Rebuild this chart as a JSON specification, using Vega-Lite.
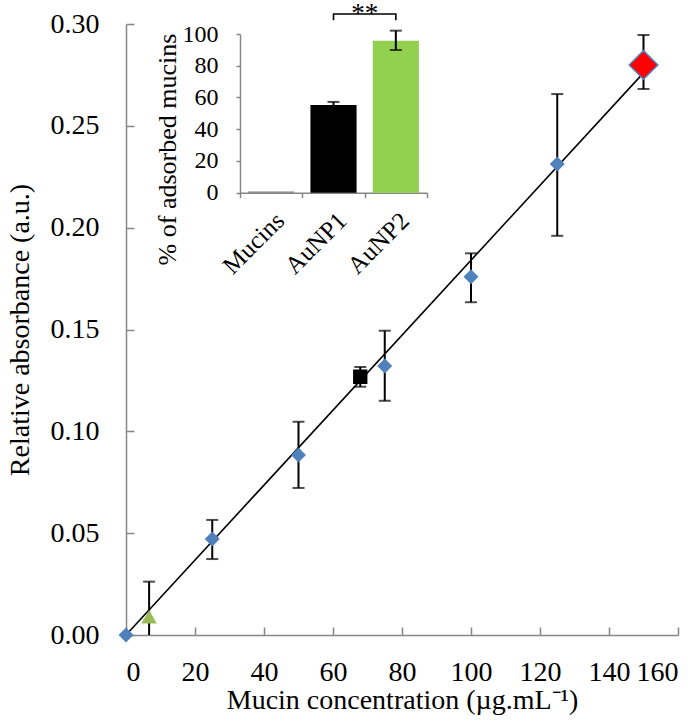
{
  "$schema": "https://vega.github.io/schema/vega-lite/v6.json",
  "width": 552,
  "height": 611,
  "autosize": {"type": "none"},
  "padding": {"left": 126, "top": 24, "right": 22, "bottom": 86},
  "config": {
    "font": "Liberation Serif",
    "view": {"stroke": null},
    "axis": {"grid": false, "labelFont": "Liberation Serif", "titleFont": "Liberation Serif", "labelColor": "black", "titleColor": "black", "titleFontWeight": "normal", "domainColor": "#868686", "tickColor": "#868686", "domainWidth": 1.5, "tickWidth": 1.5}
  },
  "datasets": {
    "points": [
      {"conc": 0, "abs": 0, "lo": null, "hi": null, "kind": "Standard"},
      {"conc": 6.7, "abs": 0.0088, "lo": -0.0086, "hi": 0.0262, "kind": "Mucins"},
      {"conc": 25, "abs": 0.0471, "lo": 0.0373, "hi": 0.0565, "kind": "Standard"},
      {"conc": 50, "abs": 0.0884, "lo": 0.0722, "hi": 0.1047, "kind": "Standard"},
      {"conc": 67.9, "abs": 0.1268, "lo": 0.1219, "hi": 0.1316, "kind": "AuNP1"},
      {"conc": 75, "abs": 0.1321, "lo": 0.115, "hi": 0.1494, "kind": "Standard"},
      {"conc": 100, "abs": 0.1759, "lo": 0.1634, "hi": 0.1874, "kind": "Standard"},
      {"conc": 125, "abs": 0.2313, "lo": 0.196, "hi": 0.2656, "kind": "Standard"},
      {"conc": 150, "abs": 0.2799, "lo": 0.2681, "hi": 0.2946, "kind": "AuNP2"}
    ],
    "fit": [
      {"conc": 0, "abs": 0},
      {"conc": 150, "abs": 0.276}
    ],
    "bars": [
      {"sample": "Mucins", "pct": 0.8, "lo": null, "hi": null},
      {"sample": "AuNP1", "pct": 55.3, "lo": 54, "hi": 57.2},
      {"sample": "AuNP2", "pct": 95.8, "lo": 89.9, "hi": 102.1}
    ],
    "bracket": [
      {"sample": "AuNP1", "pct": 108.6, "step": 1},
      {"sample": "AuNP1", "pct": 112.6, "step": 2},
      {"sample": "AuNP2", "pct": 112.6, "step": 3},
      {"sample": "AuNP2", "pct": 108.6, "step": 4}
    ],
    "stars": [
      {"sample": "AuNP1", "pct": 121, "label": "**"}
    ]
  },
  "layer": [
    {
      "layer": [
        {
          "data": {"name": "points"},
          "transform": [{"filter": "datum.lo != null"}],
          "mark": {"type": "rule", "color": "black", "strokeWidth": 2, "clip": true},
          "encoding": {
            "x": {"field": "conc", "type": "quantitative", "scale": {"domain": [0, 160], "nice": false}, "title": "Mucin concentration (µg.mL⁻¹)",
              "axis": {"values": [0, 20, 40, 60, 80, 100, 120, 140, 160], "tickSize": -8, "labelPadding": 31, "labelFontSize": 28, "titleFontSize": 28, "titlePadding": 0}},
            "y": {"field": "lo", "type": "quantitative", "scale": {"domain": [0, 0.3], "nice": false}, "title": "Relative absorbance (a.u.)",
              "axis": {"values": [0, 0.05, 0.1, 0.15, 0.2, 0.25, 0.3], "format": ".2f", "tickSize": -8, "labelPadding": 35, "labelFontSize": 28, "titleFontSize": 28, "titlePadding": 16}},
            "y2": {"field": "hi"}
          }
        },
        {
          "data": {"name": "points"},
          "transform": [{"filter": "datum.lo != null"}, {"fold": ["lo", "hi"], "as": ["end", "val"]}],
          "mark": {"type": "tick", "orient": "horizontal", "size": 12, "thickness": 2, "color": "black", "clip": true},
          "encoding": {
            "x": {"field": "conc", "type": "quantitative", "title": "Mucin concentration (µg.mL⁻¹)"},
            "y": {"field": "val", "type": "quantitative", "title": "Relative absorbance (a.u.)"}
          }
        },
        {
          "data": {"name": "fit"},
          "mark": {"type": "line", "color": "black", "strokeWidth": 1.6},
          "encoding": {
            "x": {"field": "conc", "type": "quantitative", "title": "Mucin concentration (µg.mL⁻¹)"},
            "y": {"field": "abs", "type": "quantitative", "title": "Relative absorbance (a.u.)"}
          }
        },
        {
          "data": {"name": "points"},
          "mark": {"type": "point", "filled": true, "opacity": 1, "strokeWidth": 1.5},
          "encoding": {
            "x": {"field": "conc", "type": "quantitative", "title": "Mucin concentration (µg.mL⁻¹)"},
            "y": {"field": "abs", "type": "quantitative", "title": "Relative absorbance (a.u.)"},
            "shape": {"field": "kind", "type": "nominal", "legend": null, "scale": {"domain": ["Standard", "Mucins", "AuNP1", "AuNP2"], "range": ["diamond", "triangle-up", "square", "diamond"]}},
            "size": {"condition": {"test": "datum.kind == 'AuNP2'", "value": 820}, "value": 165},
            "fill": {"field": "kind", "type": "nominal", "legend": null, "scale": {"domain": ["Standard", "Mucins", "AuNP1", "AuNP2"], "range": ["#4f81bd", "#9bbb59", "#000000", "#ff0000"]}},
            "stroke": {"field": "kind", "type": "nominal", "legend": null, "scale": {"domain": ["Standard", "Mucins", "AuNP1", "AuNP2"], "range": ["#4f81bd", "#9bbb59", "#000000", "#4f81bd"]}}
          }
        }
      ]
    },
    {
      "layer": [
        {
          "data": {"name": "bars"},
          "mark": {"type": "bar", "width": {"band": 0.74}},
          "encoding": {
            "x": {"field": "sample", "type": "nominal", "sort": null,
              "scale": {"domain": ["Mucins", "AuNP1", "AuNP2"], "range": [114, 301], "paddingInner": 0, "paddingOuter": 0},
              "axis": {"orient": "bottom", "offset": -442.3, "title": null, "labelAngle": -45, "labelFontSize": 25, "tickBand": "extent", "tickSize": 5, "labelPadding": 10}},
            "y": {"field": "pct", "type": "quantitative",
              "scale": {"domain": [0, 100], "range": [168.7, 10], "nice": false},
              "axis": {"orient": "left", "offset": -114, "values": [0, 20, 40, 60, 80, 100], "tickSize": 4, "labelPadding": 18, "labelFontSize": 24, "title": "% of adsorbed mucins", "titleFontSize": 26, "titlePadding": 2, "titleY": 125}},
            "color": {"field": "sample", "type": "nominal", "legend": null, "scale": {"domain": ["Mucins", "AuNP1", "AuNP2"], "range": ["#7f7f7f", "#000000", "#92d050"]}}
          }
        },
        {
          "data": {"name": "bars"},
          "transform": [{"filter": "datum.lo != null"}],
          "mark": {"type": "rule", "color": "black", "strokeWidth": 2},
          "encoding": {
            "x": {"field": "sample", "type": "nominal"},
            "y": {"field": "lo", "type": "quantitative", "title": "% of adsorbed mucins"},
            "y2": {"field": "hi"}
          }
        },
        {
          "data": {"name": "bars"},
          "transform": [{"filter": "datum.lo != null"}, {"fold": ["lo", "hi"], "as": ["end", "val"]}],
          "mark": {"type": "tick", "orient": "horizontal", "size": 12, "thickness": 2, "color": "black"},
          "encoding": {
            "x": {"field": "sample", "type": "nominal"},
            "y": {"field": "val", "type": "quantitative", "title": "% of adsorbed mucins"}
          }
        },
        {
          "data": {"name": "bracket"},
          "mark": {"type": "line", "color": "black", "strokeWidth": 1.6, "clip": false},
          "encoding": {
            "x": {"field": "sample", "type": "nominal"},
            "y": {"field": "pct", "type": "quantitative", "title": "% of adsorbed mucins"},
            "order": {"field": "step", "type": "quantitative"}
          }
        },
        {
          "data": {"name": "stars"},
          "mark": {"type": "text", "fontSize": 27, "baseline": "top", "align": "center", "font": "Liberation Serif"},
          "encoding": {
            "x": {"field": "sample", "type": "nominal", "bandPosition": 1},
            "y": {"field": "pct", "type": "quantitative", "title": "% of adsorbed mucins"},
            "text": {"field": "label"}
          }
        }
      ]
    }
  ],
  "resolve": {"scale": {"x": "independent", "y": "independent"}}
}
